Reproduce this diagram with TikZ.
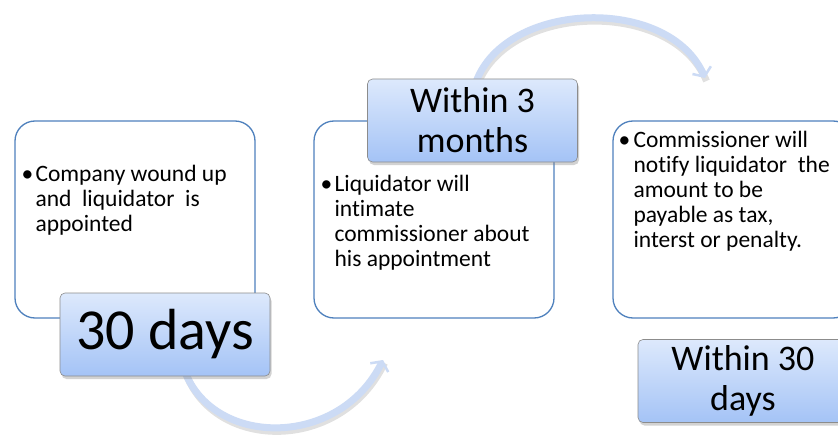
\documentclass[tikz,border=0pt]{standalone}
\usepackage{fontspec}
\setmainfont{Carlito}[Ligatures=NoCommon]
\usetikzlibrary{shadows,arrows.meta}

\definecolor{boxline}{HTML}{4F81BD}
\definecolor{arcblue}{HTML}{CCDBF5}
\definecolor{labtop}{HTML}{DDE9FC}
\definecolor{labbot}{HTML}{A4C3F6}

\begin{document}
\begin{tikzpicture}[
  x=1pt, y=-1pt,
  textbox/.style={
    draw=boxline, line width=1.3pt, fill=white,
    rounded corners=20pt, minimum width=240pt, minimum height=197pt
  },
  timebox/.style={
    draw=gray!90, line width=.6pt, rounded corners=5pt,
    top color=labtop, bottom color=labbot,
    minimum width=210pt, minimum height=83pt, align=center,
    drop shadow={shadow xshift=1.5pt, shadow yshift=-3pt, opacity=.35}
  },
  bullet/.style={anchor=base west, inner sep=0pt, font=\fontsize{23.5}{25}\selectfont},
  cycle/.style={line width=7pt, arcblue,
    -{Straight Barb[length=7pt,width=20pt,line width=2.5pt]}},
  cycleshadow/.style={line width=7pt, black, opacity=.12}
]
\clip (0,0) rectangle (838,436);
\fill[white] (0,0) rectangle (838,436);

% the two curved arrows
\coordinate (a1) at (185,372);
\coordinate (a2) at (383,360);
\coordinate (b1) at (476,82);
\coordinate (b2) at (705,78);
\draw[cycleshadow] ([shift={(1.5,3)}]a1) .. controls (217,452) and (342,452) .. ([shift={(1.5,3)}]a2);
\draw[cycleshadow] ([shift={(1.5,3)}]b1) .. controls (508,3) and (672,-2) .. ([shift={(1.5,3)}]b2);
\draw[cycle] (a1) .. controls (215,448) and (340,448) .. (a2);
\draw[cycle] (b1) .. controls (506,0) and (670,-5) .. (b2);

% boxes
\node[textbox] (box1) at (135,219.5) {};
\node[textbox] (box2) at (434,219.5) {};
\node[textbox] (box3) at (733,219.5) {};

\node[bullet] (txt1) at ([shift={(7,61)}]box1.north west) {%
  \begin{tabular}[t]{@{}p{14pt}@{}l@{}}
  • & Company wound up\\ & and\ \ liquidator\ \ is\\ & appointed
  \end{tabular}};
\node[bullet] (txt2) at ([shift={(7,71)}]box2.north west) {%
  \begin{tabular}[t]{@{}p{14pt}@{}l@{}}
  • & Liquidator will\\ & intimate\\ & commissioner about\\ & his appointment
  \end{tabular}};
\node[bullet] (txt3) at ([shift={(6,27)}]box3.north west) {%
  \begin{tabular}[t]{@{}p{15pt}@{}l@{}}
  • & Commissioner will\\ & notify liquidator\ \ the\\ & amount to be\\ & payable as tax,\\ & interst or penalty.
  \end{tabular}};

% time labels
\node[timebox, font=\fontsize{58}{60}\selectfont] (time1) at (165,334.5) {30 days};
\node[timebox, font=\fontsize{36}{40}\selectfont] (time2) at (472.5,120.5) {Within 3\\months};
\node[timebox, font=\fontsize{36}{40}\selectfont] (time3) at (743,381) {Within 30\\days};
\end{tikzpicture}
\end{document}
